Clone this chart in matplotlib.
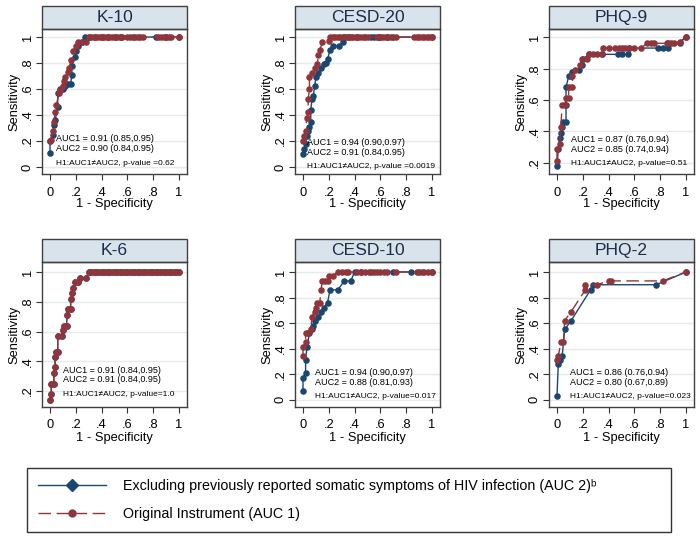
import matplotlib
matplotlib.use('Agg')
import matplotlib.pyplot as plt
from matplotlib.patches import Rectangle
from matplotlib.lines import Line2D

plt.rcParams['font.family'] = ['Liberation Sans', 'DejaVu Sans']

BLUE = '#1a476f'
RED = '#90353b'
STRIP = '#d9e3ec'
GRID = '#e3ebee'

# ---- data (1 - specificity, sensitivity) ----
# b = excluding somatic symptoms (AUC 2), r = original instrument (AUC 1)
k10_x_b = [0, 0, 0.02, 0.03, 0.04, 0.06, 0.06, 0.08, 0.10, 0.12, 0.14, 0.16, 0.17, 0.17, 0.19, 0.20,
           0.22, 0.25, 0.27, 0.30, 0.35, 0.40, 0.45, 0.50, 0.55, 0.64, 0.82, 0.90, 1.0]
k10_y_b = [0.11, 0.20, 0.25, 0.32, 0.36, 0.46, 0.57, 0.60, 0.60, 0.62, 0.64, 0.64, 0.71, 0.78, 0.85, 0.89,
           0.93, 0.96, 1.0, 1.0, 1.0, 1.0, 1.0, 1.0, 1.0, 1.0, 1.0, 1.0, 1.0]
k10_x_r = [0, 0.01, 0.02, 0.03, 0.04, 0.05, 0.07, 0.08, 0.10, 0.11, 0.12, 0.14, 0.15, 0.16, 0.18, 0.20,
           0.22, 0.25, 0.28, 0.30, 0.32, 0.34, 0.36, 0.38, 0.40, 0.42, 0.44, 0.46, 0.48, 0.50, 0.52, 0.54,
           0.56, 0.60, 0.62, 0.66, 0.68, 0.70, 0.72, 0.84, 0.86, 0.88, 0.90, 0.92, 0.94, 1.0]
k10_y_r = [0.20, 0.21, 0.28, 0.35, 0.42, 0.48, 0.57, 0.59, 0.62, 0.66, 0.69, 0.73, 0.76, 0.82, 0.89, 0.93,
           0.96, 0.96, 0.96, 1.0, 1.0, 1.0, 1.0, 1.0, 1.0, 1.0, 1.0, 1.0, 1.0, 1.0, 1.0, 1.0,
           1.0, 1.0, 1.0, 1.0, 1.0, 1.0, 1.0, 1.0, 1.0, 1.0, 1.0, 1.0, 1.0, 1.0]

cesd20_x_b = [0, 0.01, 0.02, 0.03, 0.04, 0.05, 0.06, 0.06, 0.07, 0.08, 0.09, 0.10, 0.12, 0.14, 0.16, 0.18,
              0.19, 0.21, 0.23, 0.28, 0.31, 0.32, 0.36, 0.42, 0.48, 0.53, 0.55, 0.58, 0.60, 0.65, 0.70, 1.0]
cesd20_y_b = [0.10, 0.14, 0.18, 0.24, 0.28, 0.31, 0.35, 0.44, 0.52, 0.55, 0.62, 0.69, 0.72, 0.76, 0.79, 0.80,
              0.83, 0.90, 0.93, 0.93, 0.96, 1.0, 1.0, 1.0, 1.0, 1.0, 1.0, 1.0, 1.0, 1.0, 1.0, 1.0]
cesd20_x_r = [0, 0.01, 0.02, 0.03, 0.04, 0.04, 0.05, 0.05, 0.07, 0.09, 0.11, 0.12, 0.13, 0.15, 0.20, 0.21,
              0.23, 0.25, 0.27, 0.29, 0.31, 0.33, 0.35, 0.37, 0.39, 0.41, 0.43, 0.45, 0.47, 0.50, 0.57,
              0.60, 0.62, 0.64, 0.66, 0.68, 0.72, 0.86, 0.88, 0.90, 0.92, 0.94, 0.96, 0.98, 1.0]
cesd20_y_r = [0.20, 0.24, 0.28, 0.38, 0.42, 0.52, 0.60, 0.69, 0.72, 0.76, 0.79, 0.86, 0.90, 0.96, 0.97, 1.0,
              1.0, 1.0, 1.0, 1.0, 1.0, 1.0, 1.0, 1.0, 1.0, 1.0, 1.0, 1.0, 1.0, 1.0, 1.0,
              1.0, 1.0, 1.0, 1.0, 1.0, 1.0, 1.0, 1.0, 1.0, 1.0, 1.0, 1.0, 1.0, 1.0]

phq9_x_b = [0, 0.01, 0.02, 0.03, 0.04, 0.05, 0.07, 0.07, 0.07, 0.09, 0.11, 0.12, 0.17, 0.19, 0.20, 0.25,
            0.35, 0.47, 0.50, 0.55, 0.56, 0.78, 0.82, 0.86, 0.86, 0.95, 1.0]
phq9_y_b = [0.18, 0.29, 0.36, 0.39, 0.43, 0.46, 0.46, 0.57, 0.68, 0.75, 0.75, 0.78, 0.79, 0.82, 0.86, 0.89,
            0.89, 0.89, 0.89, 0.89, 0.93, 0.93, 0.93, 0.93, 0.96, 0.96, 1.0]
phq9_x_r = [0, 0, 0.02, 0.03, 0.04, 0.06, 0.07, 0.09, 0.09, 0.12, 0.12, 0.14, 0.18, 0.19, 0.23, 0.25,
            0.28, 0.31, 0.35, 0.36, 0.40, 0.45, 0.48, 0.50, 0.53, 0.56, 0.60, 0.65, 0.70, 0.73, 0.75,
            0.85, 0.88, 0.91, 0.95, 1.0]
phq9_y_r = [0.21, 0.29, 0.32, 0.43, 0.57, 0.57, 0.61, 0.61, 0.68, 0.68, 0.75, 0.79, 0.82, 0.86, 0.86, 0.89,
            0.89, 0.89, 0.89, 0.93, 0.93, 0.93, 0.93, 0.93, 0.93, 0.93, 0.93, 0.93, 0.96, 0.96, 0.96,
            0.96, 0.96, 0.96, 0.97, 1.0]

k6_x = [0, 0.01, 0.01, 0.03, 0.03, 0.04, 0.04, 0.05, 0.06, 0.06, 0.09, 0.10, 0.11, 0.13, 0.13, 0.14,
        0.16, 0.16, 0.17, 0.18, 0.19, 0.22, 0.23, 0.28, 0.30, 0.32, 0.34, 0.36, 0.38, 0.40, 0.42, 0.44,
        0.46, 0.48, 0.50, 0.52, 0.54, 0.56, 0.58, 0.60, 0.62, 0.64, 0.66, 0.68, 0.70, 0.72, 0.74, 0.76,
        0.78, 0.80, 0.82, 0.84, 0.86, 0.88, 0.90, 0.92, 0.94, 0.96, 0.98, 1.0]
k6_y = [0.14, 0.18, 0.25, 0.25, 0.32, 0.36, 0.43, 0.46, 0.46, 0.57, 0.57, 0.61, 0.64, 0.64, 0.71, 0.75,
        0.75, 0.82, 0.86, 0.89, 0.93, 0.93, 0.96, 0.96, 1.0, 1.0, 1.0, 1.0, 1.0, 1.0, 1.0, 1.0,
        1.0, 1.0, 1.0, 1.0, 1.0, 1.0, 1.0, 1.0, 1.0, 1.0, 1.0, 1.0, 1.0, 1.0, 1.0, 1.0,
        1.0, 1.0, 1.0, 1.0, 1.0, 1.0, 1.0, 1.0, 1.0, 1.0, 1.0, 1.0]

cesd10_x_b = [0, 0, 0.02, 0.02, 0.03, 0.05, 0.07, 0.08, 0.09, 0.12, 0.14, 0.16, 0.19, 0.21, 0.27, 0.32,
              0.37, 0.40, 0.45, 0.53, 0.70, 0.84, 1.0]
cesd10_y_b = [0.07, 0.17, 0.21, 0.31, 0.41, 0.52, 0.55, 0.58, 0.62, 0.65, 0.69, 0.72, 0.76, 0.86, 0.86, 0.93,
              0.93, 1.0, 1.0, 1.0, 1.0, 1.0, 1.0]
cesd10_x_r = [0, 0, 0.02, 0.02, 0.04, 0.06, 0.07, 0.09, 0.10, 0.11, 0.13, 0.14, 0.15, 0.17, 0.19, 0.20,
              0.23, 0.27, 0.30, 0.33, 0.35, 0.42, 0.45, 0.48, 0.51, 0.55, 0.57, 0.60, 0.63, 0.65, 0.72,
              0.88, 0.90, 0.92, 0.94, 0.97, 1.0]
cesd10_y_r = [0.34, 0.41, 0.45, 0.52, 0.52, 0.55, 0.65, 0.69, 0.72, 0.76, 0.76, 0.86, 0.93, 0.93, 0.93, 0.97,
              0.97, 1.0, 1.0, 1.0, 1.0, 1.0, 1.0, 1.0, 1.0, 1.0, 1.0, 1.0, 1.0, 1.0, 1.0,
              1.0, 1.0, 1.0, 1.0, 1.0, 1.0]

phq2_x_b = [0, 0.01, 0.02, 0.04, 0.06, 0.11, 0.26, 0.28, 0.77, 1.0]
phq2_y_b = [0.03, 0.28, 0.31, 0.34, 0.55, 0.62, 0.86, 0.90, 0.90, 1.0]
phq2_x_r = [0, 0.01, 0.03, 0.05, 0.06, 0.11, 0.22, 0.22, 0.31, 0.40, 0.42, 0.82, 1.0]
phq2_y_r = [0.31, 0.34, 0.45, 0.45, 0.62, 0.69, 0.86, 0.90, 0.90, 0.93, 0.93, 0.93, 1.0]

titles = ['K-10', 'CESD-20', 'PHQ-9', 'K-6', 'CESD-10', 'PHQ-2']
auc1_text = ['AUC1 = 0.91 (0.85,0.95)', 'AUC1 = 0.94 (0.90,0.97)', 'AUC1 = 0.87 (0.76,0.94)',
             'AUC1 = 0.91 (0.84,0.95)', 'AUC1 = 0.94 (0.90,0.97)', 'AUC1 = 0.86 (0.76,0.94)']
auc2_text = ['AUC2 = 0.90 (0.84,0.95)', 'AUC2 = 0.91 (0.84,0.95)', 'AUC2 = 0.85 (0.74,0.94)',
             'AUC2 = 0.91 (0.84,0.95)', 'AUC2 = 0.88 (0.81,0.93)', 'AUC2 = 0.80 (0.67,0.89)']
h1_text = ['H1:AUC1\u2260AUC2, p-value =0.62', 'H1:AUC1\u2260AUC2, p-value =0.0019',
           'H1:AUC1\u2260AUC2, p-value=0.51', 'H1:AUC1\u2260AUC2, p-value=1.0',
           'H1:AUC1\u2260AUC2, p-value=0.017', 'H1:AUC1\u2260AUC2, p-value=0.023']

blue_x = [k10_x_b, cesd20_x_b, phq9_x_b, k6_x, cesd10_x_b, phq2_x_b]
blue_y = [k10_y_b, cesd20_y_b, phq9_y_b, k6_y, cesd10_y_b, phq2_y_b]
red_x = [k10_x_r, cesd20_x_r, phq9_x_r, k6_x, cesd10_x_r, phq2_x_r]
red_y = [k10_y_r, cesd20_y_r, phq9_y_r, k6_y, cesd10_y_r, phq2_y_r]

# layout (pixels of a 700x538 canvas)
W, H = 700, 538
lefts = [42, 295, 549]
tops = [29, 262]
pw, ph = 145, 145
ylims = [(-0.054, 1.062), (-0.054, 1.062), (0.13, 1.051),
         (0.093, 1.067), (-0.057, 1.078), (-0.057, 1.078)]
yticks = [[0, .2, .4, .6, .8, 1], [0, .2, .4, .6, .8, 1], [.2, .4, .6, .8, 1],
          [.2, .4, .6, .8, 1], [0, .2, .4, .6, .8, 1], [0, .2, .4, .6, .8, 1]]
# x, y of AUC1 line, y of H1 line (axes fraction)
text_pos = [(0.10, 0.245, 0.07), (0.08, 0.215, 0.05), (0.15, 0.235, 0.07),
            (0.145, 0.255, 0.09), (0.14, 0.235, 0.075), (0.145, 0.235, 0.075)]


def fmt(v):
    if v == 0:
        return '0'
    if v == 1:
        return '1'
    return ('%.1f' % v)[1:]


fig = plt.figure(figsize=(W / 100, H / 100), dpi=100)

for i in range(6):
    r, c = divmod(i, 3)
    ax = fig.add_axes([lefts[c] / W, 1 - (tops[r] + ph) / H, pw / W, ph / H])
    ax.plot(blue_x[i], blue_y[i], color=BLUE, lw=1.0, marker='o', ms=3.7, mec=BLUE, mfc=BLUE)
    ax.plot(red_x[i], red_y[i], color=RED, lw=1.0, ls=(0, (9, 4)), marker='o', ms=3.7, mec=RED, mfc=RED)
    ax.set_xlim(-0.062, 1.062)
    ax.set_ylim(*ylims[i])
    ax.set_xticks([0, .2, .4, .6, .8, 1])
    ax.set_xticklabels([fmt(v) for v in [0, .2, .4, .6, .8, 1]])
    ax.set_yticks(yticks[i])
    ax.set_yticklabels([fmt(v) for v in yticks[i]], rotation=90, va='center')
    ax.yaxis.grid(True, color=GRID, lw=1.0)
    ax.set_axisbelow(True)
    ax.tick_params(direction='out', length=4, width=0.8, color='#333333', labelsize=9.3, pad=2)
    ax.tick_params(axis='x', pad=5)
    for s in ax.spines.values():
        s.set_color('#404040')
        s.set_linewidth(1.0)
    ax.set_xlabel('1 - Specificity', fontsize=9.3, labelpad=0)
    ax.set_ylabel('Sensitivity', fontsize=9.3, labelpad=1)
    # strip title
    sh = 23 / ph
    ax.add_patch(Rectangle((0, 1), 1, sh, transform=ax.transAxes, clip_on=False,
                           facecolor=STRIP, edgecolor='#404040', lw=1.0))
    ax.text(0.5, 1 + sh / 2, titles[i], transform=ax.transAxes, ha='center', va='center',
            fontsize=12.6, color='#1e2d48')
    tx, y1, y3 = text_pos[i]
    ax.text(tx, y1, auc1_text[i], transform=ax.transAxes, fontsize=6.5, va='center')
    ax.text(tx, y1 - 0.068, auc2_text[i], transform=ax.transAxes, fontsize=6.5, va='center')
    ax.text(tx, y3, h1_text[i], transform=ax.transAxes, fontsize=6.0, va='center')

handles = [Line2D([], [], color=BLUE, lw=1.0, marker='D', ms=6),
           Line2D([], [], color=RED, lw=1.0, ls=(0, (9, 4)), marker='o', ms=5)]
labels = ['Excluding previously reported somatic symptoms of HIV infection (AUC 2)\u1d47',
          'Original Instrument (AUC 1)']
leg = fig.legend(handles, labels, loc='upper left',
                 bbox_to_anchor=(27 / W, 6 / H, 644 / W, 64 / H), mode='expand',
                 borderaxespad=0, fancybox=False, edgecolor='black', fontsize=10.3,
                 handlelength=4.7, handletextpad=1.2, labelspacing=0.95, borderpad=0.8)
leg.get_frame().set_linewidth(1.0)

fig.savefig('out.png', dpi=100)
